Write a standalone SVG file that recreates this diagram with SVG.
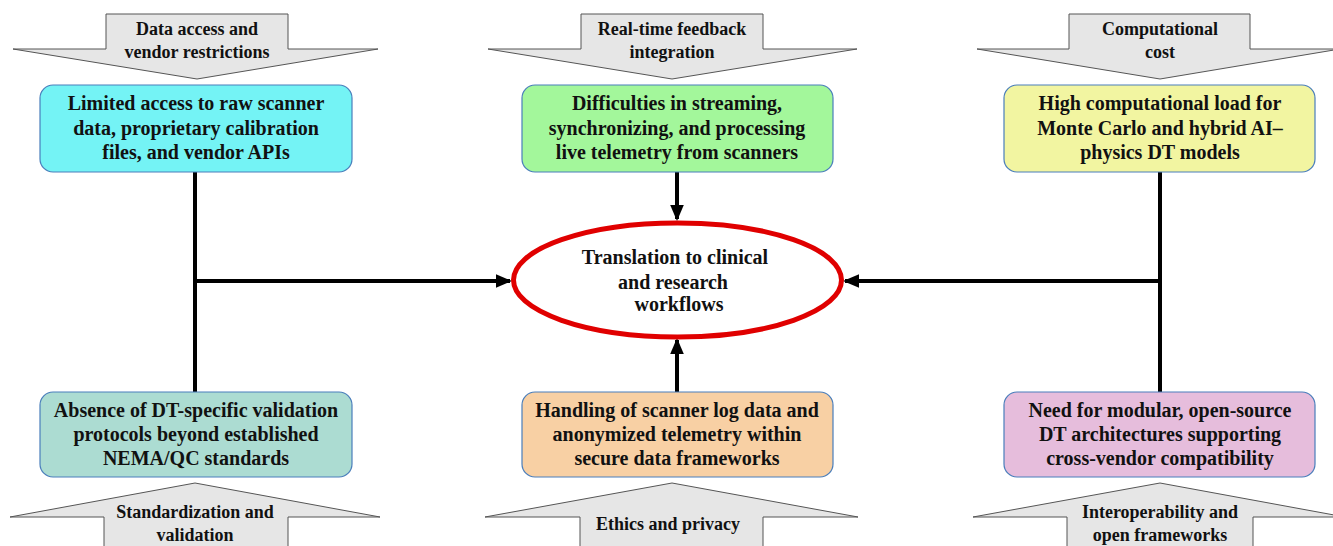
<svg xmlns="http://www.w3.org/2000/svg" width="1333" height="546" viewBox="0 0 1333 546">
<defs>
<marker id="ah" markerWidth="4" markerHeight="4" refX="3.5" refY="2" orient="auto" markerUnits="strokeWidth" viewBox="0 0 4 4">
<path d="M0,0.3 L4,2 L0,3.7 Z" fill="#000"/>
</marker>
</defs>
<style>
text{font-family:"Liberation Serif","Times New Roman",serif;font-weight:bold;fill:#111;text-anchor:middle}
.nt{font-size:20px}
.at{font-size:18px}
.et{font-size:20px}
.box{stroke:#4a7ebb;stroke-width:1.2}
.arr{fill:#e6e6e6;stroke:#555;stroke-width:1}
.ln{stroke:#000;stroke-width:4;fill:none}
</style>
<rect width="1333" height="546" fill="#fff"/>

<g id="arrow-data-access">
<path class="arr" d="M106,14 H288 V49 H378 L197,79 L13,49 H106 Z"/>
<text class="at" x="197" y="35">Data access and</text>
<text class="at" x="197" y="58">vendor restrictions</text>
</g>
<g id="arrow-realtime">
<path class="arr" d="M581,14 H763 V49 H857 L672,79 L488,49 H581 Z"/>
<text class="at" x="672" y="35">Real-time feedback</text>
<text class="at" x="672" y="58">integration</text>
</g>
<g id="arrow-computational">
<path class="arr" d="M1069,14 H1250 V49 H1340 L1160,79 L977,49 H1069 Z"/>
<text class="at" x="1160" y="35">Computational</text>
<text class="at" x="1160" y="58">cost</text>
</g>
<g id="arrow-standardization">
<path class="arr" d="M104,560 V517 H10 L195,483 L380,517 H288 V560 Z"/>
<text class="at" x="195" y="518">Standardization and</text>
<text class="at" x="195" y="541">validation</text>
</g>
<g id="arrow-ethics">
<path class="arr" d="M580,560 V517 H485 L672,483 L858,517 H763 V560 Z"/>
<text class="at" x="668" y="530">Ethics and privacy</text>
</g>
<g id="arrow-interoperability">
<path class="arr" d="M1067,560 V517 H973 L1160,483 L1345,517 H1253 V560 Z"/>
<text class="at" x="1160" y="518">Interoperability and</text>
<text class="at" x="1160" y="541">open frameworks</text>
</g>

<g id="connectors">
<line class="ln" x1="195" y1="172" x2="195" y2="392"/>
<line class="ln" x1="195" y1="281" x2="510" y2="281" marker-end="url(#ah)"/>
<line class="ln" x1="1160" y1="172" x2="1160" y2="392"/>
<line class="ln" x1="1160" y1="281" x2="845" y2="281" marker-end="url(#ah)"/>
<line class="ln" x1="677" y1="172" x2="677" y2="219" marker-end="url(#ah)"/>
<line class="ln" x1="677" y1="392" x2="677" y2="340" marker-end="url(#ah)"/>
</g>

<g id="node-limited-access">
<rect class="box" x="40" y="85" width="312" height="87" rx="13" fill="#74f3f5"/>
<text class="nt" x="196" y="110">Limited access to raw scanner</text>
<text class="nt" x="196" y="135">data, proprietary calibration</text>
<text class="nt" x="196" y="159">files, and vendor APIs</text>
</g>
<g id="node-streaming">
<rect class="box" x="522" y="85" width="311" height="87" rx="13" fill="#a3f79b"/>
<text class="nt" x="677" y="110">Difficulties in streaming,</text>
<text class="nt" x="677" y="135">synchronizing, and processing</text>
<text class="nt" x="677" y="159">live telemetry from scanners</text>
</g>
<g id="node-computational">
<rect class="box" x="1004" y="85" width="311" height="87" rx="13" fill="#f2f5a1"/>
<text class="nt" x="1160" y="110">High computational load for</text>
<text class="nt" x="1160" y="135">Monte Carlo and hybrid AI–</text>
<text class="nt" x="1160" y="159">physics DT models</text>
</g>
<g id="node-validation">
<rect class="box" x="40" y="392" width="312" height="85" rx="13" fill="#acdcd2"/>
<text class="nt" x="196" y="417">Absence of DT-specific validation</text>
<text class="nt" x="196" y="441">protocols beyond established</text>
<text class="nt" x="196" y="465">NEMA/QC standards</text>
</g>
<g id="node-privacy">
<rect class="box" x="522" y="392" width="311" height="85" rx="13" fill="#f8d0a4"/>
<text class="nt" x="677" y="417">Handling of scanner log data and</text>
<text class="nt" x="677" y="441">anonymized telemetry within</text>
<text class="nt" x="677" y="465">secure data frameworks</text>
</g>
<g id="node-interoperability">
<rect class="box" x="1004" y="392" width="311" height="85" rx="13" fill="#e6bddc"/>
<text class="nt" x="1160" y="417">Need for modular, open-source</text>
<text class="nt" x="1160" y="441">DT architectures supporting</text>
<text class="nt" x="1160" y="465">cross-vendor compatibility</text>
</g>

<g id="node-translation">
<ellipse cx="677.5" cy="280" rx="164" ry="57" fill="#fff" stroke="#e00000" stroke-width="5"/>
<text class="et" x="675" y="264">Translation to clinical</text>
<text class="et" x="673" y="289">and research</text>
<text class="et" x="679" y="311">workflows</text>
</g>
</svg>
